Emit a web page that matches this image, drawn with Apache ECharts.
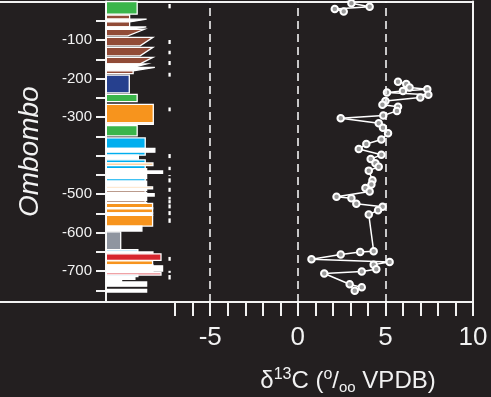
<!DOCTYPE html>
<html>
<head>
<meta charset="utf-8">
<title>Ombombo d13C</title>
<script src="https://cdn.jsdelivr.net/npm/echarts@6/dist/echarts.min.js"></script>
<style>
html, body { margin: 0; padding: 0; background: #231f20; }
#chart { width: 491px; height: 397px; }
</style>
</head>
<body>
<div id="chart"></div>
<script>
// depth axis (m) ticks and labels
var depthTicks = [-50, -100, -150, -200, -250, -300, -350, -400, -450, -500, -550, -600, -650, -700, -750];
var depthLabels = [-100, -200, -300, -500, -600, -700];
// d13C axis ticks and labels
var d13cTicks = [-7, -6, -5, -4, -3, -2, -1, 0, 1, 2, 3, 4, 5, 6, 7, 8, 9, 10];
var d13cLabels = [-5, 0, 5, 10];
var refLines = [-5, 0, 5];

// d13C samples, upper cluster and main section
var topD13C = [2.6, 3.06, 4.10, 2.11, 2.62];
var topDepth = [12, -4.7, -13.5, -19.5, -26];
var mainD13C = [5.72, 6.19, 6.38, 7.39, 6.00, 5.09, 7.45, 6.99, 5.00, 4.83, 5.72, 5.66, 4.88, 2.45, 4.62, 4.86, 5.15, 4.77, 3.91, 3.48, 4.77, 4.16, 4.43, 4.62, 4.05, 4.26, 4.20, 3.86, 4.10, 2.21, 3.06, 3.34, 4.84, 4.58, 4.05, 4.33, 3.56, 2.45, 0.78, 5.24, 4.33, 4.48, 3.65, 1.51, 2.96, 3.65, 3.25];
var mainDepth = [-208, -214, -223, -228, -232, -236, -242, -249, -258, -268, -273, -284, -296, -303, -316, -328, -342, -358, -370, -383, -398, -409, -420, -429, -439, -464, -475, -484, -493, -507, -511, -525, -533, -542, -553, -648, -650, -657, -669, -676, -683, -695, -701, -706, -734, -742, -751];

// lithology log: [top, base, grain size at top, grain size at base, lithology]
var lithUnits = [
  [0, -33, -9.17, -9.17, 'green'],
  [-35, -46, -9.6, -9.6, 'brown'],
  [-46, -53, -8.63, -9.6, 'white'],
  [-53, -66, -9.6, -9.6, 'brown'],
  [-66, -72, -8.65, -9.6, 'white'],
  [-72, -89, -8.75, -9.7, 'brown'],
  [-93, -115, -8.27, -9.0, 'brown'],
  [-119, -141, -8.27, -9.0, 'brown'],
  [-145, -162, -8.27, -9.0, 'brown'],
  [-162, -171, -8.63, -9.4, 'white'],
  [-171, -180, -8.16, -9.4, 'white'],
  [-180, -187, -9.4, -9.4, 'brown'],
  [-191, -237, -9.62, -9.62, 'blue'],
  [-241, -260, -9.17, -9.17, 'green'],
  [-267, -315, -8.25, -8.25, 'orange'],
  [-315, -319, -8.25, -8.25, 'lorange'],
  [-322, -349, -9.17, -9.17, 'green'],
  [-354, -381, -8.71, -8.71, 'cyan'],
  [-381, -391, -8.16, -8.16, 'white'],
  [-391, -399, -8.71, -8.71, 'cyan'],
  [-399, -411, -9.1, -9.1, 'white'],
  [-411, -419, -8.71, -8.71, 'cyan'],
  [-419, -426, -8.27, -8.27, 'lorange'],
  [-426, -434, -8.71, -8.71, 'cyan'],
  [-440, -446, -7.72, -7.72, 'white'],
  [-434, -460, -8.63, -8.63, 'white'],
  [-460, -466, -8.71, -8.71, 'cyan'],
  [-466, -481, -8.63, -8.63, 'white'],
  [-481, -486, -8.29, -8.29, 'lorange'],
  [-486, -491, -8.63, -8.63, 'white'],
  [-491, -496, -8.71, -8.71, 'tan'],
  [-499, -505, -8.2, -8.2, 'white'],
  [-496, -517, -8.63, -8.63, 'white'],
  [-517, -522, -8.71, -8.71, 'tan'],
  [-522, -524, -8.63, -8.63, 'white'],
  [-524, -535, -8.29, -8.29, 'orange'],
  [-535, -538, -8.29, -8.29, 'white'],
  [-538, -549, -8.29, -8.29, 'orange'],
  [-549, -555, -8.29, -8.29, 'white'],
  [-555, -583, -8.29, -8.29, 'orange'],
  [-583, -596, -8.9, -8.9, 'white'],
  [-598, -644, -10.11, -10.11, 'gray'],
  [-644, -650, -9.13, -9.13, 'lcyan'],
  [-650, -655, -8.27, -8.27, 'white'],
  [-655, -672, -7.81, -7.81, 'red'],
  [-673, -684, -8.29, -8.29, 'orange'],
  [-686, -700, -7.72, -7.72, 'white'],
  [-684, -704, -8.27, -8.27, 'white'],
  [-704, -710, -7.81, -7.81, 'pink'],
  [-710, -714, -9.13, -9.13, 'lcyan'],
  [-714, -721, -9.3, -9.3, 'white'],
  [-721, -728, -10.06, -10.06, 'white'],
  [-728, -739, -8.63, -8.63, 'white'],
  [-747, -754, -8.63, -8.63, 'white']
];

// sampled intervals (short dashes beside the log)
var sampleIntervals = [[-6.5, -17.7], [-100, -110.4], [-127.8, -137], [-154.5, -165], [-185, -195], [-275, -285], [-396, -406.5], [-429, -437.7], [-450.6, -453.2], [-459, -469.6], [-483.6, -494], [-507, -514], [-515.6, -524], [-526.8, -537], [-544, -554.5], [-563, -574.5], [-663, -673], [-699, -704.4], [-710, -721.6]];

var lithColors = {
  green: '#3ab54a', brown: '#914b37', blue: '#26408e', orange: '#f7941d',
  lorange: '#fdd3a5', cyan: '#00aeef', lcyan: '#b2e3f7', tan: '#a57a66',
  gray: '#8f95a0', red: '#d7262e', pink: '#e9858a', white: '#ffffff'
};
var colLeft = -10.93;
var sampleX = -7.32;
var fg = '#f2f2f2';
var font = 'Liberation Sans, Arial, sans-serif';

var chartDom = document.getElementById('chart');
var myChart = echarts.init(chartDom);
var option;

option = {
  backgroundColor: '#231f20',
  animation: false,
  grid: {
    left: 0,
    right: 18,
    top: 1.5,
    bottom: 95,
    outerBoundsMode: 'none'
  },
  xAxis: [
    {
      type: 'value',
      min: -17,
      max: 10,
      position: 'bottom',
      axisLine: { show: true, onZero: false, lineStyle: { color: fg, width: 2 } },
      axisTick: { show: true, customValues: d13cTicks, length: 14, lineStyle: { color: fg, width: 2 } },
      axisLabel: { show: true, customValues: d13cLabels, color: fg, fontSize: 26, fontFamily: font, margin: 23 },
      splitLine: { show: false }
    },
    {
      type: 'value',
      min: -17,
      max: 10,
      position: 'top',
      axisLine: { show: true, onZero: false, lineStyle: { color: fg, width: 2 } },
      axisTick: { show: false },
      axisLabel: { show: false },
      splitLine: { show: false }
    }
  ],
  yAxis: [
    {
      type: 'value',
      min: -780,
      max: 0,
      position: 'left',
      offset: -106,
      name: 'Ombombo',
      nameLocation: 'middle',
      nameGap: 62,
      nameTextStyle: { color: fg, fontSize: 28, fontStyle: 'italic', fontFamily: font },
      axisLine: { show: true, onZero: false, lineStyle: { color: fg, width: 2 } },
      axisTick: { show: true, customValues: depthTicks, length: 10, lineStyle: { color: fg, width: 2 } },
      axisLabel: { show: true, customValues: depthLabels, color: fg, fontSize: 15, fontFamily: font, margin: 14 },
      splitLine: { show: false }
    },
    {
      type: 'value',
      min: -780,
      max: 0,
      position: 'right',
      axisLine: { show: true, onZero: false, lineStyle: { color: fg, width: 2 } },
      axisTick: { show: false },
      axisLabel: { show: false },
      splitLine: { show: false }
    }
  ],
  graphic: [
    {
      type: 'text',
      x: 348,
      y: 381,
      style: {
        text: '{b|δ}{sup|13}{b|C (}{sup|o}{b|/}{sub|oo}{b| VPDB)}',
        align: 'center',
        verticalAlign: 'middle',
        fill: fg,
        rich: {
          b: { fontSize: 24, lineHeight: 28, fontFamily: font, fill: fg, color: fg },
          sup: { fontSize: 16, lineHeight: 18, verticalAlign: 'top', fontFamily: font, fill: fg, color: fg },
          sub: { fontSize: 15, lineHeight: 18, verticalAlign: 'bottom', fontFamily: font, fill: fg, color: fg }
        }
      }
    }
  ],
  series: [
    {
      name: 'lithology',
      type: 'custom',
      xAxisIndex: 0,
      yAxisIndex: 0,
      silent: true,
      encode: { x: 2, y: 0 },
      data: lithUnits.map(function (u) { return [u[0], u[1], u[2], u[3]]; }),
      renderItem: function (params, api) {
        var top = api.value(0), base = api.value(1);
        var pts = [
          api.coord([colLeft, top]),
          api.coord([api.value(2), top]),
          api.coord([api.value(3), base]),
          api.coord([colLeft, base])
        ];
        return {
          type: 'polygon',
          shape: { points: pts },
          style: { fill: lithColors[lithUnits[params.dataIndex][4]], stroke: '#ffffff', lineWidth: 1.3 }
        };
      }
    },
    {
      name: 'samples',
      type: 'custom',
      xAxisIndex: 0,
      yAxisIndex: 0,
      silent: true,
      encode: { y: 0 },
      data: sampleIntervals,
      renderItem: function (params, api) {
        var a = api.coord([sampleX, api.value(0)]);
        var b = api.coord([sampleX, api.value(1)]);
        return {
          type: 'line',
          shape: { x1: a[0], y1: a[1], x2: b[0], y2: b[1] },
          style: { stroke: '#ffffff', lineWidth: 2.3 }
        };
      }
    },
    {
      name: 'd13C top',
      type: 'line',
      xAxisIndex: 0,
      yAxisIndex: 0,
      clip: true,
      data: topD13C.map(function (v, i) { return [v, topDepth[i]]; }),
      symbol: 'circle',
      symbolSize: 6.5,
      showAllSymbol: true,
      lineStyle: { color: '#ffffff', width: 1.5 },
      itemStyle: { color: '#9a9a9a', borderColor: '#ffffff', borderWidth: 2 }
    },
    {
      name: 'd13C',
      type: 'line',
      xAxisIndex: 0,
      yAxisIndex: 0,
      clip: true,
      data: mainD13C.map(function (v, i) { return [v, mainDepth[i]]; }),
      symbol: 'circle',
      symbolSize: 6.5,
      showAllSymbol: true,
      lineStyle: { color: '#ffffff', width: 1.5 },
      itemStyle: { color: '#9a9a9a', borderColor: '#ffffff', borderWidth: 2 },
      markLine: {
        silent: true,
        symbol: ['none', 'none'],
        label: { show: false },
        lineStyle: { color: '#ffffff', width: 1.5, type: [8, 5] },
        data: refLines.map(function (v) { return { xAxis: v }; })
      }
    }
  ]
};

option && myChart.setOption(option);
window.addEventListener('resize', function () {
  myChart.resize();
});
</script>
</body>
</html>
